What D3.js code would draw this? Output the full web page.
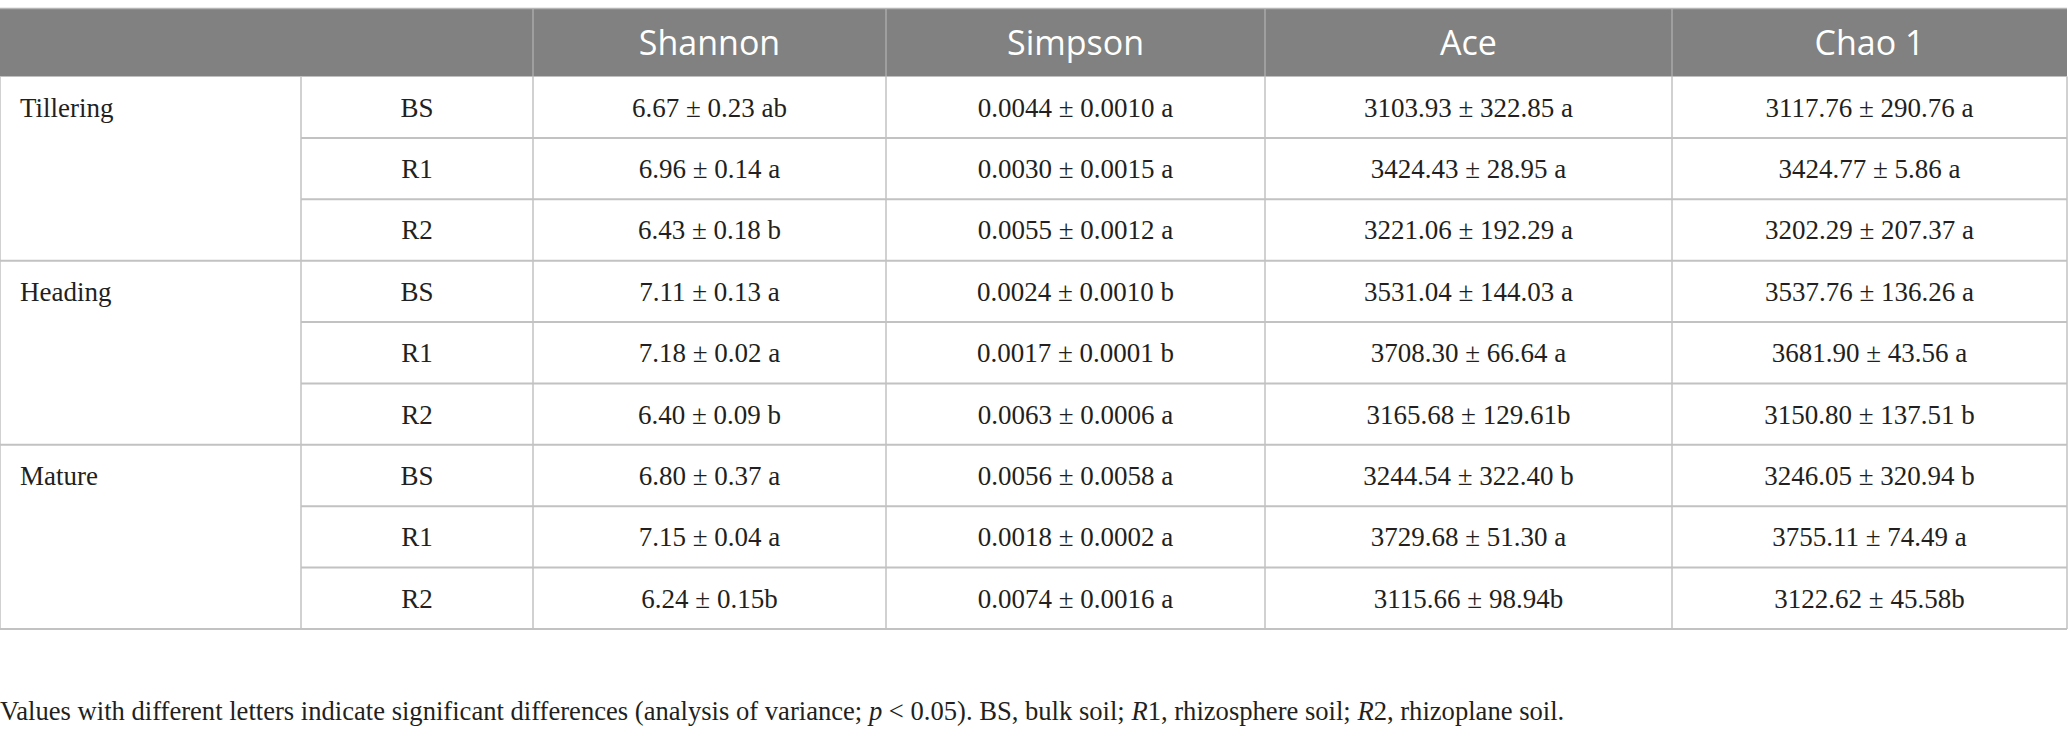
<!DOCTYPE html>
<html>
<head>
<meta charset="utf-8">
<script src="https://cdn.jsdelivr.net/npm/d3@7"></script>
<style>
  html, body { margin: 0; padding: 0; background: #fff; }
  svg { display: block; }
</style>
</head>
<body>
<div id="chart"></div>
<script>
// table content
var stages = ["Tillering", "Heading", "Mature"];
var soils = ["BS", "R1", "R2"];
var metrics = ["Shannon", "Simpson", "Ace", "Chao 1"];

var shannon = ["6.67 ± 0.23 ab", "6.96 ± 0.14 a", "6.43 ± 0.18 b",
               "7.11 ± 0.13 a", "7.18 ± 0.02 a", "6.40 ± 0.09 b",
               "6.80 ± 0.37 a", "7.15 ± 0.04 a", "6.24 ± 0.15b"];
var simpson = ["0.0044 ± 0.0010 a", "0.0030 ± 0.0015 a", "0.0055 ± 0.0012 a",
               "0.0024 ± 0.0010 b", "0.0017 ± 0.0001 b", "0.0063 ± 0.0006 a",
               "0.0056 ± 0.0058 a", "0.0018 ± 0.0002 a", "0.0074 ± 0.0016 a"];
var ace = ["3103.93 ± 322.85 a", "3424.43 ± 28.95 a", "3221.06 ± 192.29 a",
           "3531.04 ± 144.03 a", "3708.30 ± 66.64 a", "3165.68 ± 129.61b",
           "3244.54 ± 322.40 b", "3729.68 ± 51.30 a", "3115.66 ± 98.94b"];
var chao1 = ["3117.76 ± 290.76 a", "3424.77 ± 5.86 a", "3202.29 ± 207.37 a",
             "3537.76 ± 136.26 a", "3681.90 ± 43.56 a", "3150.80 ± 137.51 b",
             "3246.05 ± 320.94 b", "3755.11 ± 74.49 a", "3122.62 ± 45.58b"];

var W = 2068, H = 736;
var colEdges = [0, 301, 533, 886, 1265, 1672, 2067];
var headTop = 8.5, headBottom = 76.5, tableBottom = 629;
var lineColor = "#c2c2c2", textColor = "#231f20";
var serif = "'Liberation Serif', 'Times New Roman', serif";
var sans = "'Open Sans', 'Noto Sans', sans-serif";

var svg = d3.select("#chart").append("svg")
    .attr("width", W).attr("height", H);

// row positions from a band scale (stage x soil)
var rowKeys = [];
stages.forEach(function(s) { soils.forEach(function(r) { rowKeys.push(s + "|" + r); }); });
var y = d3.scaleBand().domain(rowKeys).range([headBottom, tableBottom]).padding(0);

var columns = [shannon, simpson, ace, chao1];

// header
svg.append("rect").attr("x", colEdges[0]).attr("y", headTop)
    .attr("width", colEdges[6] - colEdges[0]).attr("height", headBottom - headTop)
    .attr("fill", "#808180");
svg.selectAll(".hdiv").data(colEdges.slice(2, 6)).enter().append("line")
    .attr("x1", function(d) { return d; }).attr("x2", function(d) { return d; })
    .attr("y1", headTop).attr("y2", headBottom)
    .attr("stroke", "#a9aaa9").attr("stroke-width", 1.5);
svg.selectAll(".htext").data(metrics).enter().append("text")
    .attr("x", function(d, i) { return (colEdges[i + 2] + colEdges[i + 3]) / 2; })
    .attr("y", (headTop + headBottom) / 2)
    .attr("dy", "0.36em")
    .attr("text-anchor", "middle")
    .attr("font-family", sans).attr("font-size", 34)
    .attr("fill", "#fff")
    .text(function(d) { return d; });

// horizontal rule lines
var rowLines = rowKeys.slice(1).map(function(k, i) {
    return { y: y(k), group: (i + 1) % 3 === 0 };
});
svg.selectAll(".hline").data(rowLines).enter().append("line")
    .attr("x1", function(d) { return d.group ? colEdges[0] : colEdges[1]; })
    .attr("x2", colEdges[6])
    .attr("y1", function(d) { return d.y; }).attr("y2", function(d) { return d.y; })
    .attr("stroke", lineColor).attr("stroke-width", 2);

// vertical lines in body
svg.selectAll(".vline").data(colEdges).enter().append("line")
    .attr("x1", function(d) { return d; }).attr("x2", function(d) { return d; })
    .attr("y1", headBottom).attr("y2", tableBottom)
    .attr("stroke", lineColor).attr("stroke-width", 1.5);

// outer frame
svg.append("line").attr("x1", 0).attr("x2", colEdges[6])
    .attr("y1", tableBottom).attr("y2", tableBottom)
    .attr("stroke", lineColor).attr("stroke-width", 2);
svg.append("line").attr("x1", 0).attr("x2", colEdges[6])
    .attr("y1", headTop).attr("y2", headTop)
    .attr("stroke", "#b5b5b5").attr("stroke-width", 1.5);

// stage labels
svg.selectAll(".stage").data(stages).enter().append("text")
    .attr("x", 20)
    .attr("y", function(d) { return y(d + "|BS") + y.bandwidth() / 2; })
    .attr("dy", "0.35em")
    .attr("font-family", serif).attr("font-size", 27)
    .attr("fill", textColor)
    .text(function(d) { return d; });

// soil labels
svg.selectAll(".soil").data(rowKeys).enter().append("text")
    .attr("x", (colEdges[1] + colEdges[2]) / 2)
    .attr("y", function(d) { return y(d) + y.bandwidth() / 2; })
    .attr("dy", "0.35em")
    .attr("text-anchor", "middle")
    .attr("font-family", serif).attr("font-size", 27)
    .attr("fill", textColor)
    .text(function(d) { return d.split("|")[1]; });

// value cells
columns.forEach(function(col, c) {
    svg.selectAll(".cell" + c).data(col).enter().append("text")
        .attr("x", (colEdges[c + 2] + colEdges[c + 3]) / 2)
        .attr("y", function(d, i) { return y(rowKeys[i]) + y.bandwidth() / 2; })
        .attr("dy", "0.35em")
        .attr("text-anchor", "middle")
        .attr("font-family", serif).attr("font-size", 27)
        .attr("fill", textColor)
        .text(function(d) { return d; });
});

// footnote
var note = svg.append("text").attr("x", 0).attr("y", 720)
    .attr("font-family", serif).attr("font-size", 26.6).attr("fill", textColor);
var parts = [
    ["Values with different letters indicate significant differences (analysis of variance; ", false],
    ["p", true], [" < 0.05). BS, bulk soil; ", false], ["R", true], ["1, rhizosphere soil; ", false],
    ["R", true], ["2, rhizoplane soil.", false]
];
parts.forEach(function(p) {
    note.append("tspan").attr("font-style", p[1] ? "italic" : "normal").text(p[0]);
});
</script>
</body>
</html>
